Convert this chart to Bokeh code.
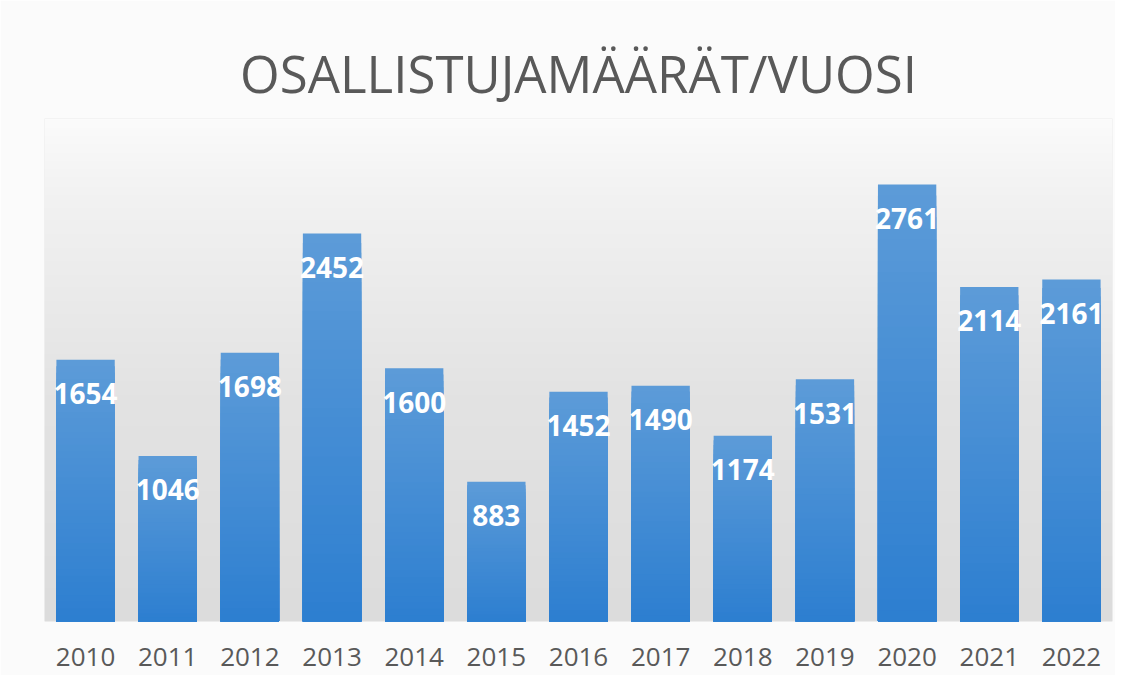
import numpy as np
from bokeh.plotting import figure
from bokeh.models import FactorRange, Range1d, ColumnDataSource
from bokeh.core.properties import value
from bokeh.embed import file_html
from bokeh.resources import INLINE

# ---- data ----
years = ["2010", "2011", "2012", "2013", "2014", "2015", "2016",
         "2017", "2018", "2019", "2020", "2021", "2022"]
counts = [1654, 1046, 1698, 2452, 1600, 883, 1452, 1490, 1174, 1531, 2761, 2114, 2161]
labels = [str(c) for c in counts]
title_text = "OSALLISTUJAMÄÄRÄT/VUOSI"

FONT = "Open Sans"
W, H = 1115, 675
Y_MAX = 3178

p = figure(width=W, height=H,
           x_range=FactorRange(factors=years, range_padding=0),
           y_range=Range1d(0, Y_MAX),
           output_backend="svg", toolbar_location=None,
           title=title_text,
           min_border_left=44, min_border_right=3,
           min_border_top=118, min_border_bottom=54)

p.border_fill_color = "#fbfbfb"
p.background_fill_color = "#e6e6e6"
p.outline_line_color = None
p.xgrid.grid_line_color = None
p.ygrid.grid_line_color = None
p.yaxis.visible = False

# background gradient inside plot frame
rows = 256
t = np.linspace(0, 1, rows)
g = np.interp(t, [0.0, 0.45, 0.85, 1.0], [220, 227, 242, 251]).astype(np.uint32)
img = np.empty((rows, 1), dtype=np.uint32)
view = img.view(dtype=np.uint8).reshape((rows, 1, 4))
view[:, 0, 0] = g
view[:, 0, 1] = g
view[:, 0, 2] = g
view[:, 0, 3] = 255
p.image_rgba(image=[img], x=0, y=0, dw=len(years), dh=Y_MAX)

# gradient bars: layered from full height (light) to short (dark)
N = 40
top_rgb = np.array([92, 155, 216])
bot_rgb = np.array([44, 126, 208])
for k in range(N):
    frac = 1 - k / N
    col = bot_rgb + (top_rgb - bot_rgb) * frac
    hexcol = "#%02x%02x%02x" % tuple(int(round(c)) for c in col)
    src = ColumnDataSource(dict(x=years, top=[c * frac for c in counts]))
    p.vbar(x="x", top="top", bottom=0, width=0.71, source=src,
           fill_color=hexcol, line_color=None)

# data labels
lsrc = ColumnDataSource(dict(x=years, y=counts, text=labels))
p.text(x="x", y="y", text="text", source=lsrc, y_offset=34,
       text_color="white", text_font=value(FONT), text_font_style="bold",
       text_font_size="28px", text_align="center", text_baseline="middle")

# x axis
ax = p.xaxis[0]
ax.axis_line_color = None
ax.major_tick_line_color = None
ax.minor_tick_line_color = None
ax.major_label_text_font = FONT
ax.major_label_text_font_size = "26px"
ax.major_label_text_color = "#595959"
ax.major_label_standoff = 20

# title
p.title.text_font = FONT
p.title.text_font_size = "51px"
p.title.text_font_style = "normal"
p.title.text_color = "#595959"
p.title.align = "center"
p.title.standoff = 22

open("out.html", "w").write(file_html(p, INLINE))
